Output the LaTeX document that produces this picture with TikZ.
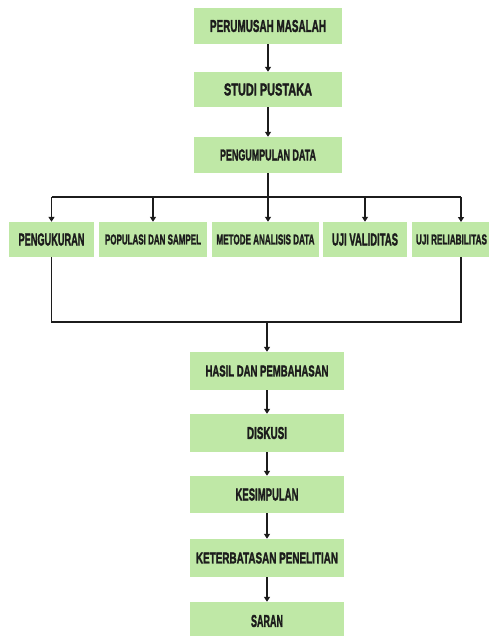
\documentclass[tikz,border=0pt]{standalone}
\usepackage{fontspec}
\setmainfont{Liberation Sans}
\newfontfamily\heavyfont[FakeBold=2.2]{Liberation Sans Bold}
\usetikzlibrary{arrows.meta}
\definecolor{boxgreen}{RGB}{191,232,166}
\definecolor{ink}{RGB}{28,28,28}
\newcommand{\lbl}[3]{\resizebox{#1pt}{#2pt}{\heavyfont #3}}
\tikzset{
  gbox/.style={fill=boxgreen, draw=none, inner sep=0pt, text=ink},
  conn/.style={draw=ink, line width=1.5pt},
  arr/.style={conn, -{Triangle[length=5pt,width=6pt]}}
}
\begin{document}
\begin{tikzpicture}[x=1pt,y=-1pt]
\useasboundingbox (0,0) rectangle (489,636);
\fill[white] (0,0) rectangle (489,636);
\begin{scope}
\clip (0,0) rectangle (489,636);
% top column
\node[gbox, minimum width=148pt, minimum height=36pt] (b1) at (268,26) {\lbl{116}{12}{PERUMUSAH MASALAH}};
\node[gbox, minimum width=148pt, minimum height=35pt] (b2) at (268,89.5) {\lbl{88}{12}{STUDI PUSTAKA}};
\node[gbox, minimum width=148pt, minimum height=36pt] (b3) at (268,155) {\lbl{96}{11}{PENGUMPULAN DATA}};
% middle row
\node[gbox, minimum width=85pt, minimum height=35pt] (m1) at (51.5,239.5) {\lbl{66}{12}{PENGUKURAN}};
\node[gbox, minimum width=108pt, minimum height=35pt] (m2) at (153,239.5) {\lbl{96}{10}{POPULASI DAN SAMPEL}};
\node[gbox, minimum width=107pt, minimum height=35pt] (m3) at (265.5,239.5) {\lbl{98}{10}{METODE ANALISIS DATA}};
\node[gbox, minimum width=84pt, minimum height=35pt] (m4) at (365,239.5) {\lbl{66}{12}{UJI VALIDITAS}};
\node[gbox, minimum width=79pt, minimum height=35pt] (m5) at (451.5,239.5) {\lbl{71}{10}{UJI RELIABILITAS}};
% bottom column
\node[gbox, minimum width=154pt, minimum height=38pt] (l1) at (267,371) {\lbl{123}{11}{HASIL DAN PEMBAHASAN}};
\node[gbox, minimum width=154pt, minimum height=38pt] (l2) at (267,433) {\lbl{40}{12}{DISKUSI}};
\node[gbox, minimum width=154pt, minimum height=37pt] (l3) at (267,494.5) {\lbl{63}{12}{KESIMPULAN}};
\node[gbox, minimum width=154pt, minimum height=38pt] (l4) at (267,558) {\lbl{142}{11}{KETERBATASAN PENELITIAN}};
\node[gbox, minimum width=154pt, minimum height=38pt] (l5) at (267,621) {\lbl{32}{12}{SARAN}};
\end{scope}
% helper coordinates
\coordinate (fan) at (268,197);
\coordinate (m5top) at (461,222);
\coordinate (m5bot) at (461,257);
\coordinate (join) at (267,322);
% top connectors
\draw[arr] (b1) -- (b2);
\draw[arr] (b2) -- (b3);
\draw[arr] (b3.south) -- (b3.south |- m3.north);
\draw[conn] (m1.north |- fan) -- (m5top |- fan);
\draw[arr] (m1.north |- fan) -- (m1.north);
\draw[arr] (m2.north |- fan) -- (m2.north);
\draw[arr] (m4.north |- fan) -- (m4.north);
\draw[arr] (m5top |- fan) -- (m5top);
% merge
\draw[conn] (m1.south) |- (m5bot |- join) -- (m5bot);
\draw[arr] (join) -- (l1.north);
% bottom connectors
\draw[arr] (l1) -- (l2);
\draw[arr] (l2) -- (l3);
\draw[arr] (l3) -- (l4);
\draw[arr] (l4) -- (l5);
\end{tikzpicture}
\end{document}
